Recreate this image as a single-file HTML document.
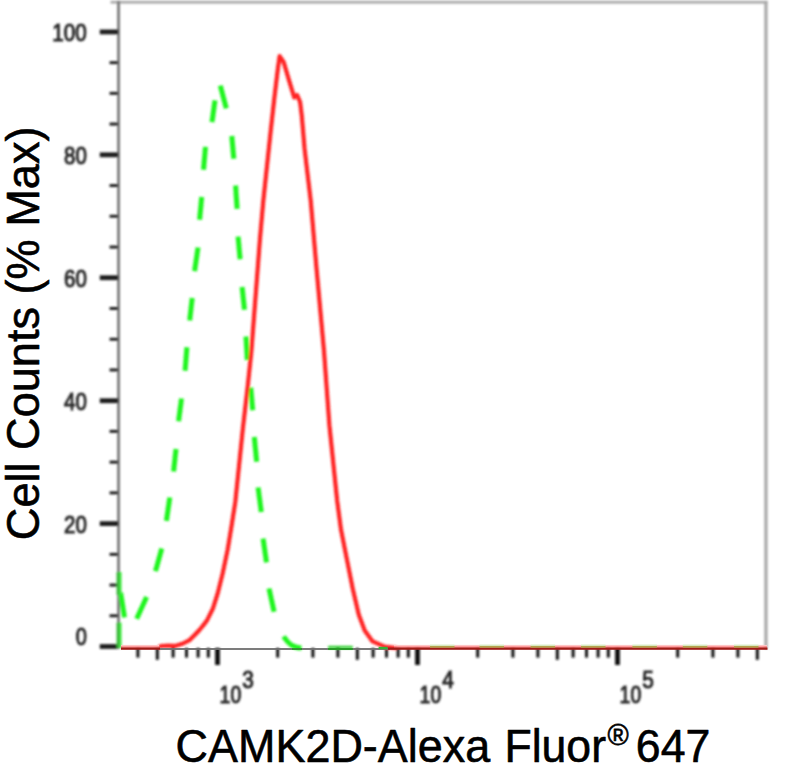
<!DOCTYPE html>
<html lang="en"><head><meta charset="utf-8"><title>CAMK2D-Alexa Fluor 647 flow cytometry histogram</title>
<style>
html,body{margin:0;padding:0;background:#fff;}
body{width:810px;height:769px;overflow:hidden;}
svg{display:block;}
text{font-family:"Liberation Sans",Arial,Helvetica,sans-serif;}
.tk{fill:#262626;font-size:24.2px;stroke:#262626;stroke-width:1.05px;stroke-linejoin:round;}
.ttl{fill:#000;font-size:46.5px;stroke:#000;stroke-width:0.6px;stroke-linejoin:round;}
</style></head><body>
<svg width="810" height="769" viewBox="0 0 810 769">
<defs><filter id="bl" x="-5%" y="-5%" width="110%" height="110%"><feGaussianBlur stdDeviation="1.05"/></filter>
<filter id="b2" x="-2%" y="-300%" width="104%" height="700%"><feGaussianBlur stdDeviation="0.7"/></filter>
<filter id="bt" x="-5%" y="-20%" width="110%" height="140%"><feGaussianBlur stdDeviation="0.8"/></filter></defs>
<rect width="810" height="769" fill="#fff"/>
<g filter="url(#bl)">

<rect x="110.5" y="0.8" width="657" height="2.8" fill="#a9a9a9"/>
<rect x="764.3" y="0.8" width="3.3" height="648" fill="#a9a9a9"/>
<rect x="117.1" y="0.8" width="2.9" height="648" fill="#7d7d7d"/>
<rect x="99.8" y="644.1" width="18.5" height="4.8" fill="#1e1e1e"/>
<rect x="109.6" y="614.3" width="8.5" height="2.9" fill="#1c1c1c"/>
<rect x="109.6" y="583.6" width="8.5" height="2.9" fill="#1c1c1c"/>
<rect x="109.6" y="552.9" width="8.5" height="2.9" fill="#1c1c1c"/>
<rect x="99.8" y="521.2" width="18.5" height="4.8" fill="#1e1e1e"/>
<rect x="109.6" y="491.4" width="8.5" height="2.9" fill="#1c1c1c"/>
<rect x="109.6" y="460.7" width="8.5" height="2.9" fill="#1c1c1c"/>
<rect x="109.6" y="429.9" width="8.5" height="2.9" fill="#1c1c1c"/>
<rect x="99.8" y="398.3" width="18.5" height="4.8" fill="#1e1e1e"/>
<rect x="109.6" y="368.5" width="8.5" height="2.9" fill="#1c1c1c"/>
<rect x="109.6" y="337.8" width="8.5" height="2.9" fill="#1c1c1c"/>
<rect x="109.6" y="307.0" width="8.5" height="2.9" fill="#1c1c1c"/>
<rect x="99.8" y="275.3" width="18.5" height="4.8" fill="#1e1e1e"/>
<rect x="109.6" y="245.6" width="8.5" height="2.9" fill="#1c1c1c"/>
<rect x="109.6" y="214.8" width="8.5" height="2.9" fill="#1c1c1c"/>
<rect x="109.6" y="184.1" width="8.5" height="2.9" fill="#1c1c1c"/>
<rect x="99.8" y="152.4" width="18.5" height="4.8" fill="#1e1e1e"/>
<rect x="109.6" y="122.6" width="8.5" height="2.9" fill="#1c1c1c"/>
<rect x="109.6" y="91.9" width="8.5" height="2.9" fill="#1c1c1c"/>
<rect x="109.6" y="61.2" width="8.5" height="2.9" fill="#1c1c1c"/>
<rect x="99.8" y="29.5" width="18.5" height="4.8" fill="#1e1e1e"/>
<rect x="136.4" y="648" width="3" height="9.6" fill="#151515"/>
<rect x="155.8" y="648" width="3" height="11.8" fill="#151515"/>
<rect x="171.6" y="648" width="3" height="9.6" fill="#151515"/>
<rect x="185.0" y="648" width="3" height="9.6" fill="#151515"/>
<rect x="196.6" y="648" width="3" height="9.6" fill="#151515"/>
<rect x="206.8" y="648" width="3" height="9.6" fill="#151515"/>
<rect x="215.1" y="648" width="4.8" height="17" fill="#0c0c0c"/>
<rect x="276.2" y="648" width="3" height="9.6" fill="#151515"/>
<rect x="311.4" y="648" width="3" height="9.6" fill="#151515"/>
<rect x="336.4" y="648" width="3" height="9.6" fill="#151515"/>
<rect x="355.8" y="648" width="3" height="11.8" fill="#151515"/>
<rect x="371.6" y="648" width="3" height="9.6" fill="#151515"/>
<rect x="385.0" y="648" width="3" height="9.6" fill="#151515"/>
<rect x="396.6" y="648" width="3" height="9.6" fill="#151515"/>
<rect x="406.8" y="648" width="3" height="9.6" fill="#151515"/>
<rect x="415.1" y="648" width="4.8" height="17" fill="#0c0c0c"/>
<rect x="476.2" y="648" width="3" height="9.6" fill="#151515"/>
<rect x="511.4" y="648" width="3" height="9.6" fill="#151515"/>
<rect x="536.4" y="648" width="3" height="9.6" fill="#151515"/>
<rect x="555.8" y="648" width="3" height="11.8" fill="#151515"/>
<rect x="571.6" y="648" width="3" height="9.6" fill="#151515"/>
<rect x="585.0" y="648" width="3" height="9.6" fill="#151515"/>
<rect x="596.6" y="648" width="3" height="9.6" fill="#151515"/>
<rect x="606.8" y="648" width="3" height="9.6" fill="#151515"/>
<rect x="615.1" y="648" width="4.8" height="17" fill="#0c0c0c"/>
<rect x="676.2" y="648" width="3" height="9.6" fill="#151515"/>
<rect x="711.4" y="648" width="3" height="9.6" fill="#151515"/>
<rect x="736.4" y="648" width="3" height="9.6" fill="#151515"/>
<rect x="755.8" y="648" width="3" height="11.8" fill="#151515"/>
<g stroke="#1ff51f" stroke-width="5.0" fill="none" stroke-linecap="butt">
<line x1="120.6" y1="592.7" x2="124.5" y2="617.4"/>
<line x1="136.7" y1="618.7" x2="146.6" y2="597"/>
<line x1="155.5" y1="571.2" x2="161.8" y2="548.5"/>
<line x1="166.4" y1="520.8" x2="169.8" y2="497.5"/>
<line x1="173.6" y1="471.6" x2="176" y2="448.9"/>
<line x1="178.6" y1="421.2" x2="181.5" y2="398.5"/>
<line x1="185.1" y1="370.8" x2="186.9" y2="347.3"/>
<line x1="189.7" y1="320.6" x2="192.2" y2="297.9"/>
<line x1="194.6" y1="271.2" x2="198" y2="247.5"/>
<line x1="199.6" y1="219.8" x2="201.7" y2="197"/>
<line x1="203.5" y1="169.7" x2="205.5" y2="146.9"/>
<line x1="212" y1="122.2" x2="215" y2="100.4"/>
<line x1="220.3" y1="85.6" x2="226.3" y2="108.3"/>
<line x1="231.8" y1="136" x2="233.8" y2="158.8"/>
<line x1="235.6" y1="185.5" x2="237.1" y2="208.9"/>
<line x1="238.1" y1="236.6" x2="240.1" y2="259.3"/>
<line x1="242.1" y1="287" x2="244.5" y2="309.8"/>
<line x1="246" y1="336.5" x2="247.3" y2="360"/>
<line x1="250.8" y1="387.6" x2="252.7" y2="410.3"/>
<line x1="254.3" y1="437" x2="256.7" y2="461.7"/>
<line x1="258.1" y1="487.5" x2="261.3" y2="512"/>
<line x1="263.1" y1="538.6" x2="266.5" y2="562.3"/>
<line x1="269" y1="588.5" x2="274.1" y2="611.7"/>
<path d="M283.6 636.5 Q287.5 642.5 291.5 645.2 Q296 647.6 301.4 648"/>
<line x1="328.1" y1="647.2" x2="352.8" y2="647.2" stroke-width="2.8" stroke="#33d033"/>
</g>
<rect x="116.6" y="572" width="2.9" height="23" fill="#34b634"/>
<rect x="119.4" y="572" width="2.2" height="23" fill="#3df03d"/>
<rect x="116.6" y="622.6" width="2.9" height="25.399999999999977" fill="#34b634"/>
<rect x="119.4" y="622.6" width="2.2" height="25.399999999999977" fill="#3df03d"/>
<path d="M159 647.2 L161 646 L168 645.7 L176 645.8 L183 643.5 L189.1 640.4 L194.9 634.8 L199 630.5 L202.8 625.9 L206.9 620.6 L212.8 608.8 L217.8 593 L222.7 573.2 L227.7 549.4 L231.6 525.7 L235.3 502 L242.8 429.1 L247.8 385.6 L251.4 351 L256.9 279.1 L259.9 239.6 L263.3 201 L270.8 130 L274.3 98.5 L277.8 69.3 L279.6 56.2 L283.7 62.2 L288.9 79.8 L294.2 97.4 L297.1 95 L300.1 102 L301.8 116.1 L303 130 L304.6 148.9 L310.7 200.5 L316.6 269.2 L324 351 L329.4 425.2 L337.2 501 L341 529.7 L346.9 559.3 L352.8 589 L358.8 614.7 L364.7 630.5 L372.6 641.4 L384.5 646.6 L396.4 648" fill="none" stroke="#ff2020" stroke-width="4.2" stroke-linejoin="round" stroke-linecap="butt"/>
</g>
<g filter="url(#b2)">
<rect x="160" y="648.1" width="230" height="1.8" fill="#6e6e6e"/>
<rect x="292" y="648.1" width="10" height="1.8" fill="#2a9a2a"/>
<rect x="328.1" y="648.1" width="24.7" height="1.8" fill="#22a022"/>
<rect x="121" y="644.9" width="38" height="1.5" fill="#ffc6c6"/>
<rect x="394" y="644.9" width="373" height="1.5" fill="#ffc6c6"/>
<rect x="121" y="646.3" width="38" height="1.5" fill="#ff7e7e"/>
<rect x="394" y="646.3" width="373" height="1.5" fill="#ff7e7e"/>
<rect x="121" y="647.5" width="39" height="2.3" fill="#a01c18"/>
<rect x="388" y="647.5" width="379.5" height="2.3" fill="#a01c18"/>
<rect x="378.6" y="646.8" width="9" height="2.4" fill="#35b035"/>
<rect x="430" y="645.9" width="24.5" height="1.8" fill="#b3a24e"/>
<rect x="430" y="644.6" width="24.5" height="1.3" fill="#d4efc2"/>
<rect x="479.5" y="645.9" width="24.5" height="1.8" fill="#b3a24e"/>
<rect x="479.5" y="644.6" width="24.5" height="1.3" fill="#d4efc2"/>
<rect x="530.6" y="645.9" width="24.5" height="1.8" fill="#b3a24e"/>
<rect x="530.6" y="644.6" width="24.5" height="1.3" fill="#d4efc2"/>
<rect x="581" y="645.9" width="24.5" height="1.8" fill="#b3a24e"/>
<rect x="581" y="644.6" width="24.5" height="1.3" fill="#d4efc2"/>
<rect x="632.4" y="645.9" width="24.5" height="1.8" fill="#b3a24e"/>
<rect x="632.4" y="644.6" width="24.5" height="1.3" fill="#d4efc2"/>
<rect x="682.8" y="645.9" width="24.5" height="1.8" fill="#b3a24e"/>
<rect x="682.8" y="644.6" width="24.5" height="1.3" fill="#d4efc2"/>
<rect x="734" y="645.9" width="24.5" height="1.8" fill="#b3a24e"/>
<rect x="734" y="644.6" width="24.5" height="1.3" fill="#d4efc2"/>
</g>
<g filter="url(#bt)">
<text class="tk" x="52.3" y="41.0" textLength="34.5" lengthAdjust="spacingAndGlyphs">100</text>
<text class="tk" x="64.0" y="163.9" textLength="22.8" lengthAdjust="spacingAndGlyphs">80</text>
<text class="tk" x="64.0" y="286.8" textLength="22.8" lengthAdjust="spacingAndGlyphs">60</text>
<text class="tk" x="64.0" y="409.8" textLength="22.8" lengthAdjust="spacingAndGlyphs">40</text>
<text class="tk" x="64.0" y="532.7" textLength="22.8" lengthAdjust="spacingAndGlyphs">20</text>
<text class="tk" x="75.7" y="645.3" textLength="11.1" lengthAdjust="spacingAndGlyphs">0</text>
<text class="tk" x="219.6" y="703.4" textLength="21.6" lengthAdjust="spacingAndGlyphs">10</text>
<text class="tk" x="242.2" y="687.8" textLength="11.6" lengthAdjust="spacingAndGlyphs">3</text>
<text class="tk" x="419.6" y="703.4" textLength="21.6" lengthAdjust="spacingAndGlyphs">10</text>
<text class="tk" x="442.2" y="687.8" textLength="11.6" lengthAdjust="spacingAndGlyphs">4</text>
<text class="tk" x="619.6" y="703.4" textLength="21.6" lengthAdjust="spacingAndGlyphs">10</text>
<text class="tk" x="642.2" y="687.8" textLength="11.6" lengthAdjust="spacingAndGlyphs">5</text>
</g>
<text class="ttl" font-size="48.5" transform="translate(39.3 540.2) rotate(-90)" textLength="413.7" lengthAdjust="spacingAndGlyphs">Cell Counts (% Max)</text>
<text class="ttl" font-size="48.5" y="761.6"><tspan x="175.6" textLength="314.6" lengthAdjust="spacingAndGlyphs">CAMK2D-Alexa</tspan><tspan x="504.4" textLength="101.6" lengthAdjust="spacingAndGlyphs">Fluor</tspan><tspan font-size="28.8" x="607.5" y="744.5">®</tspan><tspan x="635.8" y="761.6" textLength="74.6" lengthAdjust="spacingAndGlyphs">647</tspan></text>
</svg></body></html>
